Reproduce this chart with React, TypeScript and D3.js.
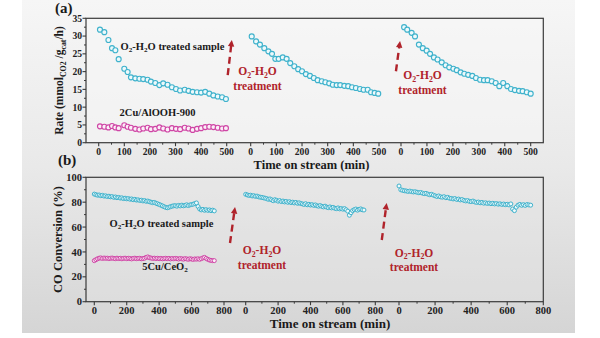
import React from 'react';
import * as d3 from 'd3';

const FONT = "'Liberation Serif','Times New Roman',serif";
const CYAN = '#3fb2cc';
const CYAN_FILL = '#eef9fb';
const PINK = '#cf45a5';
const PINK_FILL = '#fbeef7';
const RED = '#b0232b';

// ---------- Panel (a): rate vs time, three runs ----------
const aTicks = [0, 100, 200, 300, 400, 500];
const aMinor = [50, 150, 250, 350, 450];
const aYTicks = [0, 5, 10, 15, 20, 25, 30, 35];
const aYMinor = [2.5, 7.5, 12.5, 17.5, 22.5, 27.5, 32.5];

const aRun1T = [5, 22, 38, 52, 65, 78, 100, 113, 126, 143, 159, 174, 191, 204, 221, 237, 252, 269, 286, 302, 318, 336, 351, 367, 384, 400, 416, 432, 448, 465, 482, 497];
const aRun1V = [31.8, 31.1, 28.9, 26.6, 26.0, 23.5, 20.8, 19.9, 18.4, 18.1, 18.0, 17.9, 17.7, 17.2, 16.8, 16.2, 16.7, 16.3, 15.6, 15.1, 14.7, 14.9, 14.6, 14.3, 14.2, 14.1, 14.3, 13.8, 13.3, 13.0, 12.8, 12.3];
const aPinkV = [4.6, 4.5, 4.3, 4.7, 4.3, 4.1, 4.9, 4.5, 4.2, 3.9, 3.7, 4.0, 4.2, 3.8, 3.9, 4.3, 4.0, 3.7, 4.1, 3.9, 3.8, 4.2, 4.0, 3.6, 3.9, 4.1, 4.4, 4.5, 4.4, 4.2, 4.0, 4.1];
const aRun2T = [4, 21, 36, 53, 69, 83, 96, 109, 125, 140, 154, 170, 185, 200, 215, 231, 246, 261, 277, 291, 306, 320, 335, 349, 365, 380, 395, 410, 426, 440, 456, 469, 483, 497];
const aRun2V = [29.9, 28.5, 27.6, 26.6, 25.7, 25.0, 23.6, 23.6, 24.0, 23.6, 22.4, 21.5, 20.7, 20.1, 19.3, 18.8, 18.2, 17.6, 17.3, 17.0, 16.7, 16.3, 16.2, 16.2, 16.0, 15.9, 15.6, 15.4, 15.1, 14.9, 14.9, 14.2, 14.0, 13.8];
const aRun3T = [12, 24, 41, 54, 69, 84, 99, 112, 127, 141, 157, 172, 186, 202, 215, 230, 244, 259, 275, 289, 305, 320, 334, 350, 365, 379, 394, 410, 424, 439, 455, 469, 485, 500];
const aRun3V = [32.5, 31.8, 30.9, 29.9, 27.6, 26.6, 25.9, 25.0, 24.0, 23.4, 22.6, 21.8, 21.2, 20.8, 20.4, 19.8, 19.4, 19.1, 18.8, 18.2, 17.7, 17.6, 17.6, 17.3, 16.8, 15.9, 16.8, 15.9, 15.1, 14.8, 14.6, 14.5, 14.2, 13.8];

// ---------- Panel (b): CO conversion vs time, sampled every 10 min ----------
const bStep = 10;
const bTicks = [0, 200, 400, 600, 800];
const bMinor = [100, 300, 500, 700];
const bYTicks = [0, 20, 40, 60, 80, 100];
const bYMinor = [10, 30, 50, 70, 90];

const bRun1V = [
  86.5, 86.0, 85.6, 85.8, 85.2, 85.5, 84.9, 85.1, 84.6, 84.8,
  84.3, 84.5, 83.9, 84.2, 83.6, 83.8, 83.3, 83.5, 82.9, 83.2,
  82.7, 82.9, 82.4, 82.6, 82.0, 82.3, 81.7, 81.9, 81.4, 81.6,
  81.0, 81.3, 80.7, 80.9, 80.4, 80.0, 79.6, 79.8, 79.2, 78.7,
  78.2, 77.6, 77.0, 76.4, 75.8, 75.5, 75.9, 76.4, 76.8, 77.1,
  77.2, 76.8, 77.4, 77.0, 77.6, 77.1, 77.5, 77.9, 77.3, 77.8,
  78.1, 78.4, 78.9, 79.4, 76.5, 74.5, 73.8, 74.2, 73.5, 74.0,
  73.4, 73.8, 73.2, 73.6, 73.0,
];
const bPinkV = [
  33.0, 33.8, 34.5, 35.0, 35.2, 34.8, 35.1, 34.9, 35.0, 34.7,
  34.9, 35.1, 34.8, 34.6, 35.0, 34.7, 34.9, 34.5, 34.8, 35.0,
  34.6, 34.9, 34.7, 34.4, 34.8, 35.0, 34.6, 34.8, 34.9, 34.5,
  34.7, 35.0, 35.6, 36.0, 35.4, 35.1, 34.8, 35.0, 34.7, 34.9,
  34.6, 34.8, 34.5, 34.7, 34.9, 34.6, 34.8, 34.4, 34.7, 34.5,
  34.8, 34.6, 34.3, 34.7, 34.5, 34.2, 34.6, 34.4, 34.1, 34.5,
  34.3, 34.0, 34.4, 34.2, 34.5, 34.1, 34.6, 35.2, 35.6, 34.8,
  34.0, 33.5, 33.2, 33.0, 33.0,
];
const bRun2V = [
  86.3, 85.8, 85.5, 85.6, 85.0, 85.2, 84.7, 84.9, 84.3, 84.0,
  83.8, 83.5, 83.2, 82.8, 82.3, 82.6, 81.9, 81.2, 82.0, 81.5,
  80.8, 81.3, 80.5, 80.9, 80.2, 80.6, 79.9, 80.4, 79.7, 80.0,
  79.4, 79.8, 79.1, 79.5, 78.9, 78.6, 78.2, 78.8, 77.9, 78.3,
  77.7, 78.0, 77.4, 77.8, 77.1, 76.8, 77.3, 76.6, 76.2, 76.8,
  76.0, 75.6, 76.2, 75.4, 75.8, 75.1, 74.8, 75.4, 74.6, 74.9,
  74.4, 74.8, 73.9, 72.8, 69.5, 71.5, 73.2, 74.0, 74.5, 73.6,
  74.2, 74.6, 73.9, 73.7,
];
const bRun3V = [
  93.0, 90.0, 89.5, 89.2, 89.0, 88.7, 88.9, 88.5, 88.2, 88.4,
  88.0, 87.6, 87.8, 87.3, 86.9, 87.1, 86.5, 86.0, 86.3, 85.7,
  85.1, 84.6, 85.0, 84.3, 84.0, 84.4, 83.6, 83.9, 83.2, 83.0,
  82.6, 82.9, 82.2, 82.5, 81.8, 82.1, 81.4, 81.0, 81.3, 80.7,
  80.5, 80.9, 80.2, 79.8, 80.1, 79.5, 79.8, 79.2, 79.5, 79.0,
  79.3, 78.8, 79.1, 78.6, 78.9, 78.4, 78.7, 78.2, 78.5, 78.0,
  78.3, 77.8, 78.6, 74.5, 73.2, 76.0, 77.6, 78.2, 77.5, 78.0,
  77.4, 78.1, 77.8, 77.6,
];

// ---------- layout ----------
const LEFT = 86;
const RIGHT = 543.3;
const A_TOP = 18.3, A_BOT = 142.7;
const B_TOP = 177.3, B_BOT = 301.7;
const A_SEG: [number, number][] = [[98.7, 226.7], [250.7, 379], [401, 530.7]];
const B_SEG: [number, number][] = [[94.3, 224], [245.7, 375.3], [399, 543.3]];

type Part = [string, boolean];
const O2H2O: Part[] = [['O', false], ['2', true], ['-H', false], ['2', true], ['O', false]];

function rich(parts: Part[], fs: number) {
  return parts.map(([t, sub], i) => {
    const prevSub = i > 0 && parts[i - 1][1];
    const dy = sub ? (prevSub ? 0 : fs * 0.25) : prevSub ? -fs * 0.25 : 0;
    return (
      <tspan key={i} dy={dy} fontSize={sub ? fs * 0.68 : fs}>
        {t}
      </tspan>
    );
  });
}

function Arrow({ x0, y0, x1, y1 }: { x0: number; y0: number; x1: number; y1: number }) {
  const dx = x1 - x0, dy = y1 - y0;
  const len = Math.hypot(dx, dy);
  const ux = dx / len, uy = dy / len;
  const hl = 6.5, hw = 3.2;
  const bx = x1 - ux * hl, by = y1 - uy * hl;
  const px = -uy, py = ux;
  return (
    <g>
      <line x1={x0} y1={y0} x2={bx + ux} y2={by + uy} stroke={RED} strokeWidth={2.4} strokeDasharray="7 4.5" />
      <polygon
        points={`${x1},${y1} ${bx + px * hw},${by + py * hw} ${bx - px * hw},${by - py * hw}`}
        fill={RED}
      />
    </g>
  );
}

function Treatment({ x, y }: { x: number; y: number }) {
  return (
    <g>
      <text x={x} y={y} textAnchor="middle" fontSize={11.5} fontWeight="bold" fill={RED}>{rich(O2H2O, 11.5)}</text>
      <text x={x} y={y + 14.5} textAnchor="middle" fontSize={11.5} fontWeight="bold" fill={RED}>treatment</text>
    </g>
  );
}

export default function App() {
  const ya = d3.scaleLinear().domain([0, 35]).range([A_BOT, A_TOP]);
  const yb = d3.scaleLinear().domain([0, 100]).range([B_BOT, B_TOP]);
  const xa = A_SEG.map((r) => d3.scaleLinear().domain([0, 500]).range(r));
  const xb = B_SEG.map((r) => d3.scaleLinear().domain([0, 800]).range(r));

  const axisCol = '#3a3a3a';
  const tickFsA = 9.6;
  const tickFsB = 10.5;

  const seriesA = [
    { x: xa[0], t: aRun1T, v: aPinkV, c: PINK, f: PINK_FILL },
    { x: xa[0], t: aRun1T, v: aRun1V, c: CYAN, f: CYAN_FILL },
    { x: xa[1], t: aRun2T, v: aRun2V, c: CYAN, f: CYAN_FILL },
    { x: xa[2], t: aRun3T, v: aRun3V, c: CYAN, f: CYAN_FILL },
  ];
  const seriesB = [
    { x: xb[0], v: bPinkV, c: PINK, f: PINK_FILL },
    { x: xb[0], v: bRun1V, c: CYAN, f: CYAN_FILL },
    { x: xb[1], v: bRun2V, c: CYAN, f: CYAN_FILL },
    { x: xb[2], v: bRun3V, c: CYAN, f: CYAN_FILL },
  ];

  return (
    <svg
      width={600}
      height={338}
      style={{ position: 'absolute', left: 0, top: 0, fontFamily: FONT }}
    >
      <defs>
        <linearGradient id="bg" x1="0" y1="0" x2="0" y2="1">
          <stop offset="0" stopColor="#f6f6f6" />
          <stop offset="0.5" stopColor="#e9e9e9" />
          <stop offset="1" stopColor="#d5d5d5" />
        </linearGradient>
      </defs>
      <rect x={0} y={0} width={600} height={338} fill="#ffffff" />
      <rect x={22} y={0} width={553} height={333} fill="url(#bg)" />

      {/* ---------- Panel (a) ---------- */}
      <rect x={LEFT} y={A_TOP} width={RIGHT - LEFT} height={A_BOT - A_TOP} fill="#f7f7f7" fillOpacity={0.6} stroke={axisCol} strokeWidth={1.2} />
      {aYTicks.map((v) => (
        <g key={'ay' + v}>
          <line x1={LEFT - 3.5} x2={LEFT} y1={ya(v)} y2={ya(v)} stroke={axisCol} strokeWidth={1.1} />
          <text x={LEFT - 4} y={ya(v) + 3.4} textAnchor="end" fontSize={tickFsA} fontWeight="bold" fill="#222">{v}</text>
        </g>
      ))}
      {aYMinor.map((v) => (
        <line key={'aym' + v} x1={LEFT - 2} x2={LEFT} y1={ya(v)} y2={ya(v)} stroke={axisCol} strokeWidth={1} />
      ))}
      {xa.map((sx, i) => (
        <g key={'ax' + i}>
          {aTicks.map((t) => (
            <g key={t}>
              <line x1={sx(t)} x2={sx(t)} y1={A_BOT} y2={A_BOT + 3.5} stroke={axisCol} strokeWidth={1.1} />
              <text x={sx(t)} y={A_BOT + 12} textAnchor="middle" fontSize={tickFsA} fontWeight="bold" fill="#222">{t}</text>
            </g>
          ))}
          {aMinor.map((t) => (
            <line key={'m' + t} x1={sx(t)} x2={sx(t)} y1={A_BOT} y2={A_BOT + 2} stroke={axisCol} strokeWidth={1} />
          ))}
        </g>
      ))}
      {seriesA.map((s, si) => (
        <g key={'sa' + si}>
          {s.v.map((v, i) => (
            <circle key={i} cx={s.x(s.t[i])} cy={ya(v)} r={2.5} fill={s.f} stroke={s.c} strokeWidth={1.15} />
          ))}
        </g>
      ))}
      <text x={172.5} y={49.5} textAnchor="middle" fontSize={10.5} fontWeight="bold" fill="#1a1a1a">
        {rich([...O2H2O, [' treated sample', false]], 10.5)}
      </text>
      <text x={157.5} y={116} textAnchor="middle" fontSize={10.5} fontWeight="bold" fill="#1a1a1a">2Cu/AlOOH-900</text>

      <Arrow x0={xa[0](504)} y0={ya(19.0)} x1={xa[0](520)} y1={ya(28.9)} />
      <Arrow x0={xa[1](566)} y0={ya(20.1)} x1={xa[1](582)} y1={ya(28.6)} />
      <Treatment x={257.5} y={75} />
      <Treatment x={422.5} y={79} />

      <text transform={`translate(63,${(A_TOP + A_BOT) / 2}) rotate(-90)`} textAnchor="middle" fontSize={11.5} fontWeight="bold" fill="#1a1a1a">
        {rich([['Rate (mmol', false], ['CO2', true], [' /g', false], ['cat', true], ['/h)', false]], 11.5)}
      </text>
      <text x={311.5} y={169} textAnchor="middle" fontSize={12.5} fontWeight="bold" fill="#1a1a1a">Time on stream (min)</text>
      <text x={55} y={12.5} fontSize={15} fontWeight="bold" fill="#1a1a1a">(a)</text>
      <text x={58} y={165} fontSize={15} fontWeight="bold" fill="#1a1a1a">(b)</text>

      {/* ---------- Panel (b) ---------- */}
      <rect x={LEFT} y={B_TOP} width={RIGHT - LEFT} height={B_BOT - B_TOP} fill="#e6e6e6" fillOpacity={0.35} stroke={axisCol} strokeWidth={1.2} />
      {bYTicks.map((v) => (
        <g key={'by' + v}>
          <line x1={LEFT - 3.5} x2={LEFT} y1={yb(v)} y2={yb(v)} stroke={axisCol} strokeWidth={1.1} />
          <text x={LEFT - 4} y={yb(v) + 3.6} textAnchor="end" fontSize={tickFsB} fontWeight="bold" fill="#222">{v}</text>
        </g>
      ))}
      {bYMinor.map((v) => (
        <line key={'bym' + v} x1={LEFT - 2} x2={LEFT} y1={yb(v)} y2={yb(v)} stroke={axisCol} strokeWidth={1} />
      ))}
      {xb.map((sx, i) => (
        <g key={'bx' + i}>
          {bTicks.map((t) => (
            <g key={t}>
              <line x1={sx(t)} x2={sx(t)} y1={B_BOT} y2={B_BOT + 3.5} stroke={axisCol} strokeWidth={1.1} />
              <text x={sx(t)} y={B_BOT + 12.5} textAnchor="middle" fontSize={tickFsB} fontWeight="bold" fill="#222">{t}</text>
            </g>
          ))}
          {bMinor.map((t) => (
            <line key={'m' + t} x1={sx(t)} x2={sx(t)} y1={B_BOT} y2={B_BOT + 2} stroke={axisCol} strokeWidth={1} />
          ))}
        </g>
      ))}
      {seriesB.map((s, si) => (
        <g key={'sb' + si}>
          {s.v.map((v, i) => (
            <circle key={i} cx={s.x(i * bStep)} cy={yb(v)} r={2} fill={s.f} stroke={s.c} strokeWidth={1} />
          ))}
        </g>
      ))}
      <text x={161.5} y={226.5} textAnchor="middle" fontSize={10.5} fontWeight="bold" fill="#1a1a1a">
        {rich([...O2H2O, [' treated sample', false]], 10.5)}
      </text>
      <text x={165} y={269.5} textAnchor="middle" fontSize={10.5} fontWeight="bold" fill="#1a1a1a">
        {rich([['5Cu/CeO', false], ['2', true]], 10.5)}
      </text>

      <Arrow x0={xb[0](837)} y0={yb(47.2)} x1={xb[0](868)} y1={yb(76.1)} />
      <Arrow x0={xb[1](840)} y0={yb(49.6)} x1={xb[1](870)} y1={yb(79.3)} />
      <Treatment x={262} y={254} />
      <Treatment x={414} y={256.5} />

      <text transform={`translate(62,${(B_TOP + B_BOT) / 2}) rotate(-90)`} textAnchor="middle" fontSize={12.5} fontWeight="bold" fill="#1a1a1a">CO Conversion (%)</text>
      <text x={330} y={327.5} textAnchor="middle" fontSize={13} fontWeight="bold" fill="#1a1a1a">Time on stream (min)</text>
    </svg>
  );
}
